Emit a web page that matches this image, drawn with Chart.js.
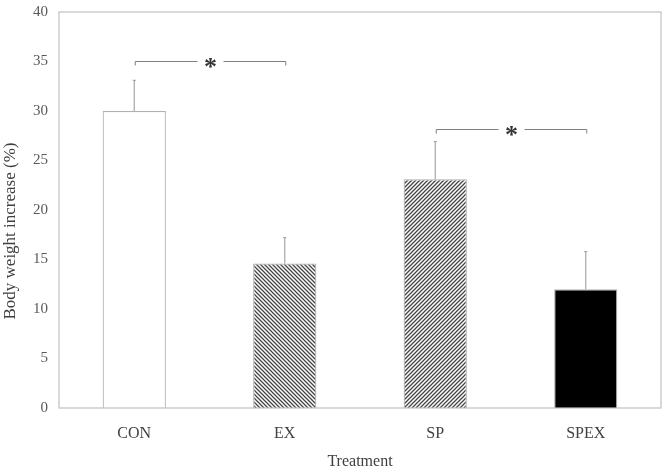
<!DOCTYPE html>
<html>
<head>
<meta charset="utf-8">
<script src="https://cdn.jsdelivr.net/npm/chart.js@4"></script>
<style>
  html, body { margin: 0; padding: 0; background: #fff; }
  #wrap { width: 671px; height: 466px; }
</style>
</head>
<body>
<div id="wrap"><canvas id="chart"></canvas></div>
<script>
const categories = ['CON', 'EX', 'SP', 'SPEX'];
const means = [30, 14.6, 23.1, 12];
const errorTops = [33.1, 17.2, 26.9, 15.8];
const yTicks = [0, 5, 10, 15, 20, 25, 30, 35, 40];
const yTitle = 'Body weight increase (%)';
// significance brackets: [fromIndex, toIndex, level]
const brackets = [[0, 1, 35.1], [2, 3, 28.2]];

function hatch(dir) {
    const c = document.createElement('canvas');
    c.width = 4; c.height = 4;
    const g = c.getContext('2d');
    g.fillStyle = '#fff';
    g.fillRect(0, 0, 4, 4);
    g.strokeStyle = '#444';
    g.lineWidth = 1.3;
    g.beginPath();
    if (dir === 'back') {
        g.moveTo(-1, -1); g.lineTo(5, 5);
        g.moveTo(-1, 3); g.lineTo(1, 5);
        g.moveTo(3, -1); g.lineTo(5, 1);
    } else {
        g.moveTo(-1, 5); g.lineTo(5, -1);
        g.moveTo(-1, 1); g.lineTo(1, -1);
        g.moveTo(3, 5); g.lineTo(5, 3);
    }
    g.stroke();
    return g.createPattern(c, 'repeat');
}

const ctx = document.getElementById('chart').getContext('2d');
const fills = ['#ffffff', hatch('back'), hatch('fwd'), '#000000'];

const extrasPlugin = {
    id: 'extras',
    afterDatasetsDraw(chart) {
        const { ctx, scales: { x, y }, chartArea: a } = chart;
        ctx.save();
        // error bars (upper only)
        ctx.strokeStyle = '#a6a6a6';
        ctx.lineWidth = 1.2;
        means.forEach((m, i) => {
            const px = x.getPixelForValue(i);
            ctx.beginPath();
            ctx.moveTo(px, y.getPixelForValue(m));
            ctx.lineTo(px, y.getPixelForValue(errorTops[i]));
            ctx.moveTo(px - 1.5, y.getPixelForValue(errorTops[i]));
            ctx.lineTo(px + 1.5, y.getPixelForValue(errorTops[i]));
            ctx.stroke();
        });
        // brackets with star
        brackets.forEach(([i, j, lvl]) => {
            const x1 = x.getPixelForValue(i) + 1;
            const x2 = x.getPixelForValue(j) + 1;
            const py = Math.round(y.getPixelForValue(lvl)) + 0.5;
            const mid = (x1 + x2) / 2;
            ctx.strokeStyle = '#7f7f7f';
            ctx.lineWidth = 1;
            ctx.beginPath();
            ctx.moveTo(x1, py + 4); ctx.lineTo(x1, py); ctx.lineTo(mid - 13, py);
            ctx.moveTo(mid + 13, py); ctx.lineTo(x2, py); ctx.lineTo(x2, py + 4);
            ctx.stroke();
            ctx.fillStyle = '#333333';
            ctx.font = 'bold 26px "Liberation Serif"';
            ctx.textAlign = 'center';
            ctx.textBaseline = 'middle';
            ctx.fillText('*', mid, py + 7);
        });
        // frame
        ctx.strokeStyle = '#c0c0c0';
        ctx.lineWidth = 1.2;
        ctx.strokeRect(a.left, a.top, a.right - a.left, a.bottom - a.top);
        // y axis title (sits a little below the plot centre in the original)
        ctx.translate(11, 231);
        ctx.rotate(-Math.PI / 2);
        ctx.fillStyle = '#404040';
        ctx.font = '17px "Liberation Serif"';
        ctx.textAlign = 'center';
        ctx.textBaseline = 'middle';
        ctx.fillText(yTitle, 0, 0);
        ctx.restore();
    }
};

new Chart(ctx, {
    type: 'bar',
    data: {
        labels: categories,
        datasets: [{
            data: means,
            backgroundColor: fills,
            borderColor: '#b0b0b0',
            borderWidth: 1.2,
            barPercentage: 0.42,
            categoryPercentage: 1
        }]
    },
    options: {
        responsive: true,
        maintainAspectRatio: false,
        animation: false,
        layout: { padding: { top: -5, right: 10, left: 0, bottom: 0 } },
        plugins: { legend: { display: false }, tooltip: { enabled: false } },
        scales: {
            y: {
                min: 0, max: 40,
                afterBuildTicks: (s) => { s.ticks = yTicks.map(v => ({ value: v })); },
                afterFit: (s) => { s.width = 59; },
                grid: { display: false },
                border: { display: false },
                ticks: {
                    color: '#595959',
                    padding: 3,
                    font: { family: '"Liberation Serif"', size: 15 }
                }
            },
            x: {
                afterFit: (s) => { s.height = 58; },
                grid: { display: false },
                border: { display: false },
                ticks: {
                    color: '#404040',
                    padding: 8,
                    font: { family: '"Liberation Serif"', size: 16 }
                },
                title: {
                    display: true,
                    text: 'Treatment',
                    color: '#404040',
                    font: { family: '"Liberation Serif"', size: 16 },
                    padding: { top: 0, bottom: -5 }
                }
            }
        }
    },
    plugins: [extrasPlugin]
});
</script>
</body>
</html>
